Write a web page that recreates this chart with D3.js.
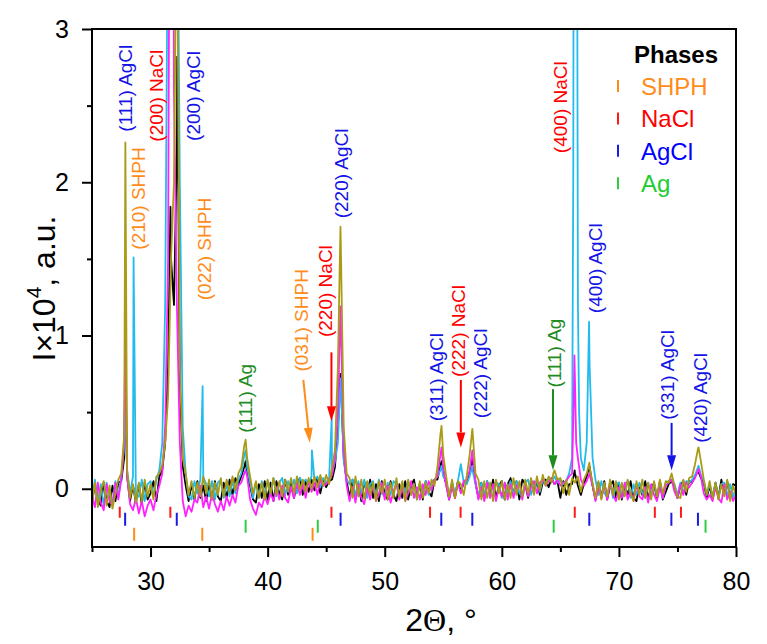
<!DOCTYPE html>
<html><head><meta charset="utf-8">
<script src="https://cdn.jsdelivr.net/npm/d3@7"></script>
<style>
body{margin:0;background:#fff}
svg{display:block}
text{font-family:"Liberation Sans",Arial,sans-serif}
</style>
</head><body>
<svg id="chart" width="767" height="644"></svg>
<script>
// ---------- DATA ----------
// angle grid (2Θ, degrees): 25 .. 80 in 0.25° steps
const twoTheta = d3.range(0, 221).map(i => 25 + i * 0.25);

// intensities in units of 10^2 counts (axis shows 10^4)
const blackGrid = [
-9,3,-7,-11, 4,-8,-12,2, -8,4,5,20, 8,-8,2,-9, 3,-10,4,-7, -3,5,-8,8,
12,30,80,150, 120,220,70,15, 2,-8,3,-7, 5,-6,2,-8, 3,-7,5,-5, -8,4,-6,6,
-4,7,3,8, 14,10,2,-7, -9,3,-6,5, -7,4,-8,5, -3,-7,6,-4, 4,-6,3,7,
-4,5,-2,6, -1,7,-3,6, 1,5,6,14, 40,70,20,5, -6,6,-7,3, -8,5,-4,6,
-6,3,-8,5, -3,-7,5,-4, -8,3,-6,5, -7,2,6,-5, 3,-7,5,-2, -5,6,6,15,
10,3,-7,4, -6,5,-2,4, 4,10,18,4, -6,4,-7,5, -4,6,-6,2, 5,-7,3,7,
-4,5,-7,6, 3,-6,6,-2, 5,-4,4,6, 1,7,3,5, -6,5,-4,3, 3,10,2,-4,
3,8,14,2, -7,4,-6,5, -7,2,5,-6, 4,-7,2,-4, 5,-6,-8,3, -4,5,-7,2,
3,-6,5,-7, -2,3,5,1, -6,2,5,-4, 5,4,8,12, 7,4,-6,2, -7,4,-6,6,
-4,5,-6,3, 2];
const blackPeaks = [[27.85,80],[31.7,184],[32.28,282],[38.12,18],[46.22,75],[54.85,18],[57.48,20],[66.22,12],[67.48,15],[76.8,11]];

const magentaGrid = [
-5,-12,4,-9, -14,3,-8,-11, 4,-7,6,30, 8,-10,-14,-6, -16,-8,-18,-11, -7,-14,-4,2,
10,40,150,450, 260,120,30,-8, -18,-11,-15,-7, -9,2,-12,-5, -13,-3,-10,-15, -8,-14,-5,-11,
-4,-9,2,4, 10,8,-7,-13, -17,-9,-12,-5, -10,-3,-8,1, -7,2,-6,-9, 1,-6,4,-4,
3,-6,5,-2, 4,-4,6,2, 3,6,9,20, 50,110,25,2, -8,1,-9,3, -6,-10,1,-7,
3,-8,-4,4, -7,2,-9,-2, 4,-7,1,-8, -3,5,-6,1, -7,3,-4,5, -1,6,8,22,
14,2,-7,1, -6,4,-3,5, 6,12,22,5, -7,1,-8,4, -6,3,-8,1, -5,4,-7,3,
-6,1,4,-7, 3,-5,1,5, -3,4,6,2, 5,7,3,6, 2,4,5,8, 10,70,20,6,
2,5,9,2, -8,1,-6,3, -7,4,-4,-8, 1,-6,4,-7, -2,-8,3,-5, -7,1,-9,3,
-4,-8,1,-6, 2,4,6,-2, -6,3,-4,4, 1,4,7,12, 8,-3,-7,-4, -8,1,-6,-9,
3,-7,-2,-8, -4];
const magentaPeaks = [[27.85,110],[31.72,600],[31.88,520],[38.12,12],[46.22,119],[54.85,27],[57.48,25],[66.15,60],[66.2,87],[66.35,30],[67.48,10],[76.8,13]];

const cyanGrid = [
-7,6,-9,3, -11,4,-6,-9, 5,-5,8,28, 12,-3,8,-6, -5,6,-8,3, 5,-5,6,12,
30,120,400,700, 650,450,200,40, 10,-5,-7,5, -3,6,8,3, -5,5,-7,4, 6,-6,3,-5,
5,-3,6,10, 22,14,4,-6, 4,-6,5,-4, 5,-3,7,-5, 4,7,-4,5, -2,6,-3,7,
4,6,3,8, 6,8,1,7, 4,7,10,18, 30,70,18,6, 3,6,-5,5, -3,6,-6,3,
5,-5,6,-3, -5,4,-4,5, 3,-6,4,-3, 5,-4,3,-7, 4,-3,5,-4, 4,6,8,12,
8,5,-4,4, -3,5,16,4, 3,8,12,3, -5,4,-4,5, -3,-5,4,3, -6,4,-3,5,
-4,5,-3,-5, 4,6,-4,4, 5,-2,6,4, 7,5,8,4, 6,3,5,10, 20,800,120,20,
12,30,80,20, 6,-4,5,-3, -5,4,-6,3, 4,-5,3,5, -6,3,-4,4, -3,-6,4,-4,
4,-5,3,-6, 4,5,6,3, -4,4,-3,5, 4,6,9,14, 9,5,-4,3, -5,4,-6,3,
4,-5,3,-6, 2];
const cyanPeaks = [[27.85,60],[28.55,151],[34.45,67],[38.12,25],[43.78,25],[45.47,46],[46.22,72],[54.85,15],[57.48,15],[66.1,200],[66.18,600],[66.4,500],[66.45,300],[66.6,50],[67.45,109],[76.8,15]];

const oliveGrid = [
-10,4,-12,-1, 5,-11,2,-13, -3,6,10,35, 12,-6,3,-9, 4,-8,6,-5, 3,-7,8,10,
16,30,60,150, 200,400,80,20, 10,-4,5,-6, 4,-5,8,-3, 6,-7,4,-4, 7,-5,6,-2,
8,-1,10,14, 28,20,8,-3, 5,-6,4,-7, 6,-3,7,-4, 5,-5,6,-2, 7,-3,8,-1,
6,-2,7,0, 8,1,9,2, 9,3,14,25, 80,160,40,10, 7,-6,8,-5, 6,-7,5,-4,
4,-8,5,-3, 6,-7,4,-6, 7,-5,5,-8, 6,-4,3,-7, 5,-6,4,-3, 6,2,14,35,
22,8,-5,6, -6,5,3,-4, 8,22,38,10, 6,-7,5,-6, 4,-8,6,-3, 5,-7,3,-6,
7,-4,5,-5, 6,-3,7,-4, 8,-1,9,2, 8,4,12,6, 7,-3,6,-4, 7,4,8,-2,
6,10,14,4, -6,5,-7,4, -5,6,-4,5, -7,4,-5,6, -3,-8,5,-4, 6,-6,4,-7,
5,-5,6,-3, 5,4,10,2, -5,-6,6,-2, 7,8,16,26, 18,6,-4,5, -6,4,-7,3,
-5,6,-8,2, -4];
const olivePeaks = [[27.85,226],[38.12,32],[46.22,171],[54.85,41],[57.48,39],[64.4,10],[67.48,17],[74.5,10],[76.8,27]];

const seriesNames = ["Sample 1","Sample 2","Sample 3","Sample 4"];
const seriesGrids = [blackGrid, cyanGrid, magentaGrid, oliveGrid];
const seriesPeaks = [blackPeaks, cyanPeaks, magentaPeaks, olivePeaks];
const seriesColors = ["#000000","#22BBEE","#FF22FF","#AA9A14"];

// reference reflection positions (2Θ)
const phaseNames = ["SHPH","NaCl","AgCl","Ag"];
const shphPos = [28.6, 34.42, 43.84];
const naclPos = [27.37, 31.69, 45.45, 53.87, 56.48, 66.23, 73.07, 75.3];
const agclPos = [27.83, 32.24, 46.23, 54.83, 57.48, 67.47, 74.48, 76.75];
const agPos = [38.12, 44.28, 64.43, 77.4];
const phasePositions = [shphPos, naclPos, agclPos, agPos];
const phaseColors = ["#FF8C1A","#FF1A1A","#1A1AE6","#2ECC40"];

// peak labels: text, 2Θ, intensity (x10^2) where the label starts
const labelTexts = ["(111) AgCl","(200) NaCl","(200) AgCl","(210) SHPH","(022) SHPH","(111) Ag","(031) SHPH","(220) NaCl","(220) AgCl","(311) AgCl","(222) NaCl","(222) AgCl","(111) Ag","(400) NaCl","(400) AgCl","(331) AgCl","(420) AgCl"];
const labelX = [27.82,30.53,33.71,29.01,34.65,38.07,42.91,44.9,46.33,54.38,56.28,58.14,64.54,64.97,67.96,74.19,76.93];
const labelY = [233,226.5,227,156,123,36.5,76.5,99,176.5,44,73,46,66,219,114.6,45,30];
const labelPhase = [2,1,2,0,0,3,0,1,2,2,1,2,3,1,2,2,2];
const labelColors = ["#FF8C1A","#FF0000","#1414E6","#1E8C1E"];

// arrows: [x from, y from, x to, y to, phase]
const arrows = [[43.05,71,43.6,30,0],[45.45,89,45.45,44,1],[56.5,71,56.5,27,1],[64.37,65,64.37,12,3],[74.5,43,74.5,12,2]];

const yTicks = [0,100,200,300];
const yMinor = [50,150,250];
const xTicks = [30,40,50,60,70,80];
const xMinor = [25,35,45,55,65,75];

// ---------- CHART ----------
const svg = d3.select("#chart");
const M = {l:92, r:736, t:29, b:547};
const x = d3.scaleLinear().domain([25,80]).range([M.l, M.r]);
const y = d3.scaleLinear().domain([-38,300]).range([M.b, M.t]);

svg.append("defs").append("clipPath").attr("id","clip")
  .append("rect").attr("x",M.l).attr("y",M.t).attr("width",M.r-M.l).attr("height",M.b-M.t);

const line = d3.line().x(d=>x(d[0])).y(d=>y(d[1]));
const gS = svg.append("g").attr("clip-path","url(#clip)");
seriesGrids.forEach((grid,k)=>{
  const pts = twoTheta.map((t,i)=>[t, grid[i]]).concat(seriesPeaks[k]);
  pts.sort((a,b)=>a[0]-b[0]);
  gS.append("path").datum(pts).attr("d",line)
    .attr("fill","none").attr("stroke",seriesColors[k]).attr("stroke-width",1.8)
    .attr("stroke-linejoin","round").attr("data-name",seriesNames[k]);
});

// phase reference bars (offsets below zero line in px)
const barRows = [[39,52],[18,29],[24,37],[31,44]];
phasePositions.forEach((arr,k)=>{
  svg.append("g").selectAll("line").data(arr).join("line")
    .attr("x1",d=>x(d)).attr("x2",d=>x(d))
    .attr("y1",y(0)+barRows[k][0]).attr("y2",y(0)+barRows[k][1])
    .attr("stroke",phaseColors[k]).attr("stroke-width",2);
});

// labels
const gL = svg.append("g");
labelTexts.forEach((t,i)=>{
  const px = x(labelX[i]), py = y(labelY[i]);
  gL.append("text").attr("transform",`translate(${px+6.5},${py}) rotate(-90)`)
    .attr("font-size",19).attr("fill",labelColors[labelPhase[i]]).text(t);
});

// arrows
arrows.forEach(a=>{
  const x1=x(a[0]), y1=y(a[1]), x2=x(a[2]), y2=y(a[3]);
  const c = labelColors[a[4]];
  const ang = Math.atan2(y2-y1, x2-x1);
  const L=15, W=4.5;
  const bx = x2 - L*Math.cos(ang), by = y2 - L*Math.sin(ang);
  svg.append("line").attr("x1",x1).attr("y1",y1).attr("x2",bx).attr("y2",by)
    .attr("stroke",c).attr("stroke-width",2);
  const px = -Math.sin(ang), py = Math.cos(ang);
  svg.append("path").attr("d",`M${x2},${y2}L${bx+W*px},${by+W*py}L${bx-W*px},${by-W*py}Z`).attr("fill",c);
});

// legend
const gLeg = svg.append("g");
gLeg.append("text").attr("x",634).attr("y",63).attr("font-size",24).attr("font-weight","bold").attr("fill","#000").text("Phases");
const legendColors = ["#FF8C1A","#FF0000","#0000FF","#22CC33"];
phaseNames.forEach((n,k)=>{
  const by = 95 + k*32.4;
  gLeg.append("line").attr("x1",618).attr("x2",618).attr("y1",by-15).attr("y2",by-3)
    .attr("stroke",phaseColors[k]).attr("stroke-width",2);
  gLeg.append("text").attr("x",641).attr("y",by).attr("font-size",24).attr("fill",legendColors[k]).text(n);
});

// axes
const fs = 25;
svg.append("g").attr("transform",`translate(0,${M.b})`)
  .call(d3.axisBottom(x).tickValues(xTicks).tickSize(10).tickPadding(15).tickFormat(d3.format("d")));
svg.append("g").attr("transform",`translate(0,${M.b})`)
  .call(d3.axisBottom(x).tickValues(xMinor).tickSize(5).tickFormat(""));
svg.append("g").attr("transform",`translate(${M.l},0)`)
  .call(d3.axisLeft(y).tickValues(yTicks).tickSize(10).tickPadding(13).tickFormat(d=>d/100));
svg.append("g").attr("transform",`translate(${M.l},0)`)
  .call(d3.axisLeft(y).tickValues(yMinor).tickSize(5).tickFormat(""));
svg.selectAll(".domain").remove();
svg.selectAll(".tick line").attr("stroke","#000").attr("stroke-width",2);
svg.selectAll(".tick text").attr("font-size",fs).attr("font-family","'Liberation Sans',Arial,sans-serif").attr("fill","#000");

svg.append("rect").attr("x",M.l).attr("y",M.t).attr("width",M.r-M.l).attr("height",M.b-M.t)
  .attr("fill","none").attr("stroke","#000").attr("stroke-width",2);

// axis titles
const yt = svg.append("text").attr("transform","translate(55,288.5) rotate(-90)")
  .attr("text-anchor","middle").attr("font-size",32).attr("fill","#000");
yt.append("tspan").text("I×10");
yt.append("tspan").attr("font-size",21).attr("dy",-14).text("4");
yt.append("tspan").attr("dy",14).text(", a.u.");

const xt = svg.append("text").attr("x",441).attr("y",631).attr("text-anchor","middle")
  .attr("font-size",32).attr("fill","#000");
xt.append("tspan").text("2");
xt.append("tspan").attr("font-family","'Liberation Serif','Times New Roman',serif").text("Θ");
xt.append("tspan").text(", °");
</script>
</body></html>
